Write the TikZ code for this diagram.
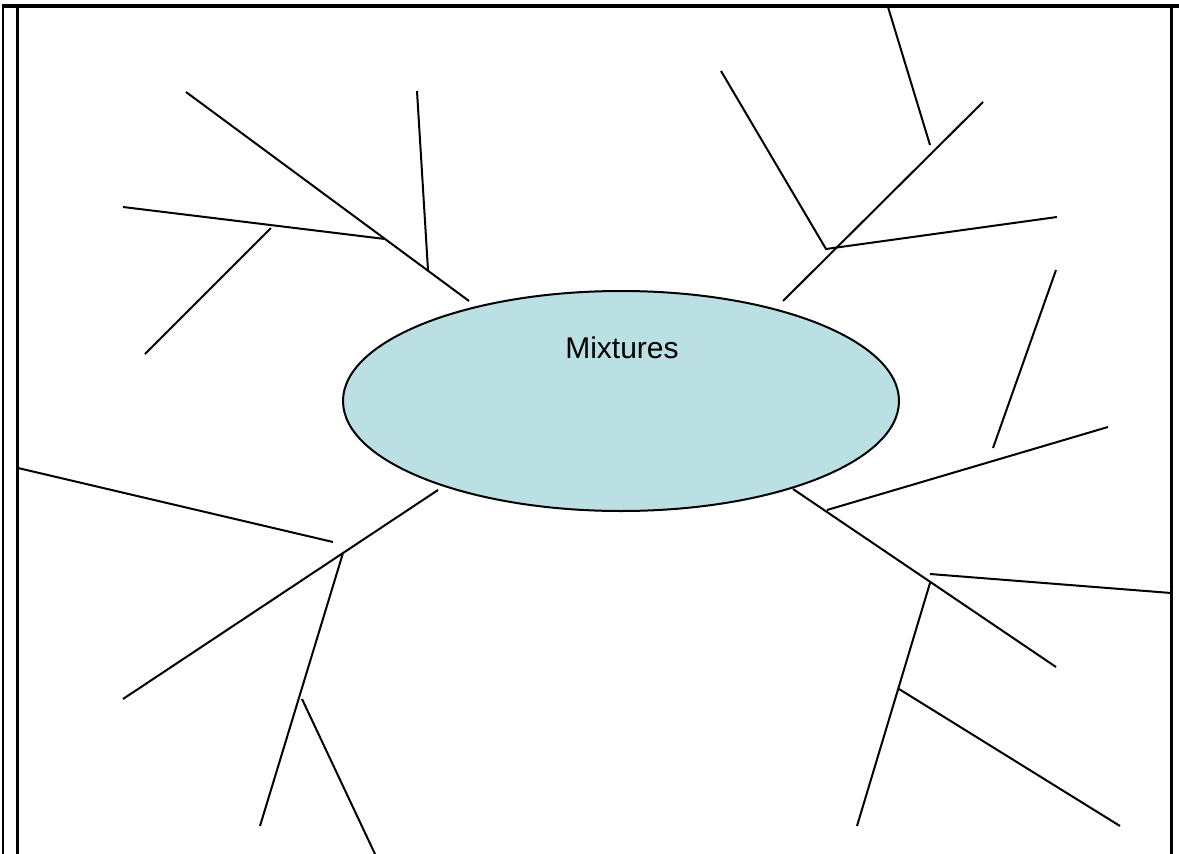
\documentclass[tikz,border=0pt]{standalone}
\usepackage{fontspec}
\setmainfont{Liberation Sans}
\usetikzlibrary{shapes.geometric}
\definecolor{bubble}{RGB}{187,224,228}
\tikzset{
  branch/.style={line width=2pt, line cap=butt},
  frameline/.style={line width=2.6pt},
  topic/.style={ellipse, draw, line width=2pt, fill=bubble,
    minimum width=556pt, minimum height=220pt, inner sep=0pt}
}
\begin{document}
\begin{tikzpicture}[x=1pt, y=-1pt]
\useasboundingbox (0,0) rectangle (1179,854);
% frame
\draw[line width=3.6pt] (2,6) -- (1179,6);
\draw[frameline] (3,5) -- (3,854);
\draw[frameline] (17.5,6) -- (17.5,854);
\draw[frameline] (1171.5,5) -- (1171.5,854);
% central topic
\node[topic] (mix) at (621,401) {};
\node[font=\fontsize{30}{35}\selectfont] (lbl) at (622,348) {Mixtures};
% upper-left branch
\coordinate (a1) at (186,92);  \coordinate (a2) at (469,301);
\coordinate (a3) at (417,91);  \coordinate (a4) at (428,270);
\coordinate (a5) at (123,207); \coordinate (a6) at (385,239);
\coordinate (a7) at (271,228); \coordinate (a8) at (145,354);
\draw[branch] (a1) -- (a2);
\draw[branch] (a3) -- (a4);
\draw[branch] (a5) -- (a6);
\draw[branch] (a7) -- (a8);
% upper-right branch
\coordinate (b1) at (783,301); \coordinate (b2) at (983,102);
\coordinate (b3) at (721,71);  \coordinate (b4) at (826,249);
\coordinate (b5) at (1057,217);
\coordinate (b6) at (888,7);   \coordinate (b7) at (930,145);
\draw[branch] (b1) -- (b2);
\draw[branch] (b3) -- (b4) -- (b5);
\draw[branch] (b6) -- (b7);
% right branches
\coordinate (c1) at (1056,270); \coordinate (c2) at (993,448);
\coordinate (c3) at (827,510);  \coordinate (c4) at (1108,427);
\draw[branch] (c1) -- (c2);
\draw[branch] (c3) -- (c4);
% lower-right branch
\coordinate (d1) at (793,489);  \coordinate (d2) at (1056,667);
\coordinate (d3) at (930,574);  \coordinate (d4) at (1171,593);
\coordinate (d5) at (930,583);  \coordinate (d6) at (857,826);
\coordinate (d7) at (899,689);  \coordinate (d8) at (1120,826);
\draw[branch] (d1) -- (d2);
\draw[branch] (d3) -- (d4);
\draw[branch] (d5) -- (d6);
\draw[branch] (d7) -- (d8);
% lower-left branch
\coordinate (e1) at (18,468);   \coordinate (e2) at (333,542);
\coordinate (e3) at (438,490);  \coordinate (e4) at (123,699);
\coordinate (e5) at (343,553);  \coordinate (e6) at (260,826);
\coordinate (e7) at (302,699);  \coordinate (e8) at (375,854);
\draw[branch] (e1) -- (e2);
\draw[branch] (e3) -- (e4);
\draw[branch] (e5) -- (e6);
\draw[branch] (e7) -- (e8);
\end{tikzpicture}
\end{document}
